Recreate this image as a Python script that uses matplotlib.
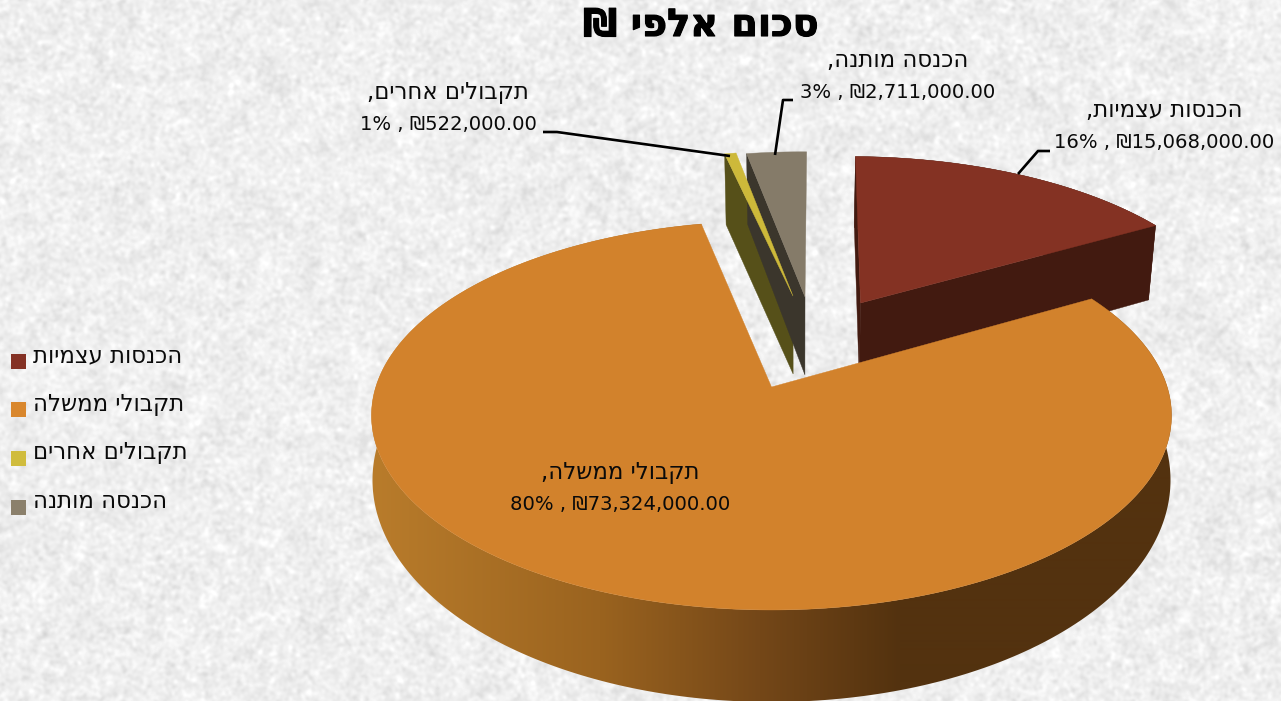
import numpy as np
import matplotlib
matplotlib.use("Agg")
import matplotlib.pyplot as plt
import matplotlib.patheffects as pe
from matplotlib.patches import Polygon, Rectangle
from matplotlib.colors import to_rgb

# ---- data ----
categories = ["הכנסות עצמיות", "תקבולי ממשלה", "תקבולים אחרים", "הכנסה מותנה"]
values = [15068000, 73324000, 522000, 2711000]
percents = [16, 80, 1, 3]
title = "סכום אלפי ₪"

# ---- styles ----
top_colors = ["#843223", "#d2822c", "#cdb93a", "#857b69"]
wall_colors = ["#421a10", "#53320f", "#565019", "#3b362c"]
legend_colors = ["#843124", "#d9872d", "#d0bc3d", "#8b806b"]
offsets = [(0.2405, -0.472), (0.0, 0.0), (0.0584, -0.514), (0.091, -0.509)]
rotation = 1.0
CX, CY, A, B, K = 771.5, 387.0, 395.7, 190.3, 0.1465
label_pos = [(1164.5, 111, 143), (620, 472, 504), (448, 93, 124), (897.5, 61, 92)]
leaders = [[(1018, 174), (1038, 151), (1050, 151)],
           [(543, 132), (557, 132), (730, 156)],
           [(793, 100), (783, 100), (775, 155)]]
legend_y = [354, 402, 451, 500]


def vis(s):
    """Hebrew in visual order, because matplotlib lays text out left to right."""
    return s[::-1]


def project(u, v):
    w = 1 - K * v
    return CX + A * u / w, CY + B * v / w


def rim(start, end, off, n=200):
    t = np.radians(np.linspace(start, end, n))
    return project(off[0] + np.sin(t), off[1] - np.cos(t))


fig = plt.figure(figsize=(12.81, 7.01), dpi=100)
ax = fig.add_axes([0, 0, 1, 1])
ax.axis("off")

# mottled paper backdrop
rng = np.random.default_rng(7)
h, w_ = 701, 1281
fy = np.fft.fftfreq(h)[:, None]
fx = np.fft.rfftfreq(w_)[None, :]
r2 = fx ** 2 + fy ** 2
spec = np.fft.rfft2(rng.standard_normal((h, w_)))
fine = np.fft.irfft2(spec * np.exp(-r2 * 2 * (np.pi * 1.7) ** 2), s=(h, w_))
spec2 = np.fft.rfft2(rng.standard_normal((h, w_)))
coarse = np.fft.irfft2(spec2 * np.exp(-r2 * 2 * (np.pi * 6.0) ** 2), s=(h, w_))
tex = fine / fine.std() * 0.019 + coarse / coarse.std() * 0.009 + 0.935
ax.imshow(np.clip(tex, 0, 1), cmap="gray", vmin=0, vmax=1, extent=(0, 1281, 701, 0),
          aspect="auto", zorder=0, interpolation="bilinear")

# slice angles come from the values
total = sum(values)
edges = np.concatenate([[0], np.cumsum(values)]) / total * 360 + rotation


def extrude(x, y):
    x = np.asarray(x, float)
    y = np.asarray(y, float)
    return x - 0.02 * (x - 800), y + 71 + (y - 157) * 0.05


# exploded slices first (they sit behind the big one)
for i in [0, 3, 2]:
    s, e = edges[i], edges[i + 1]
    rx, ry = rim(s, e, offsets[i])
    ax_, ay_ = project(*offsets[i])
    tx = np.concatenate([[ax_], rx])
    ty = np.concatenate([[ay_], ry])
    faces = [([ax_, rx[0]], [ay_, ry[0]])]
    if i == 0:
        faces += [([ax_, rx[-1]], [ay_, ry[-1]]), (rx, ry)]
    for xs, ys in faces:
        xs = np.asarray(xs, float)
        ys = np.asarray(ys, float)
        bx, by = extrude(xs, ys)
        ax.add_patch(Polygon(np.column_stack([np.r_[xs, bx[::-1]], np.r_[ys, by[::-1]]]),
                             closed=True, fc=wall_colors[i], ec=wall_colors[i], lw=0.3, zorder=2 + i * 0.1))
    ax.add_patch(Polygon(np.column_stack([tx, ty]), closed=True, fc=top_colors[i],
                         ec=top_colors[i], lw=0.3, zorder=3 + i * 0.1))

# big slice: shaded side wall, then the top
s, e = edges[1], edges[2]
rx, ry = rim(s, e, offsets[1], n=500)
ell_top = rim(0, 360, (0, 0), n=721)
ecx = 0.5 * (ell_top[0].max() + ell_top[0].min())
ecy = 0.5 * (ell_top[1].max() + ell_top[1].min())
ea = 0.5 * (ell_top[0].max() - ell_top[0].min())
eb = 0.5 * (ell_top[1].max() - ell_top[1].min())
bx = 771.5 + 399 * (rx - ecx) / ea
by = 480 + 222 * (ry - ecy) / eb
stops_x = [372, 600, 760, 900, 1172]
stops_c = ["#b97c2b", "#9a631f", "#744718", "#53320f", "#53320f"]
grad_x = np.arange(360, 1185)
grad = np.stack([np.interp(grad_x, stops_x, [to_rgb(c)[k] for c in stops_c]) for k in range(3)], axis=-1)[None, :, :]
wall = Polygon(np.column_stack([np.r_[rx, bx[::-1]], np.r_[ry, by[::-1]]]), closed=True,
               fc="none", ec="none", transform=ax.transData)
ax.add_patch(wall)
im = ax.imshow(grad, extent=(360, 1185, 720, 200), aspect="auto", zorder=4, interpolation="bilinear")
im.set_clip_path(wall)
ax_, ay_ = project(*offsets[1])
ax.add_patch(Polygon(np.column_stack([np.r_[ax_, rx], np.r_[ay_, ry]]), closed=True,
                     fc=top_colors[1], ec=top_colors[1], lw=0.3, zorder=5))

# leaders
for pts in leaders:
    p = np.array(pts)
    ax.plot(p[:, 0], p[:, 1], color="black", lw=1.9, zorder=6, solid_capstyle="butt")

# data labels
font = "DejaVu Sans"
he_size, num_size = 16.4, 14.1
for name, val, pct, (lx, y1, y2) in zip(categories, values, percents, label_pos):
    ax.text(lx, y1, vis(name + ","), ha="center", va="center", fontsize=he_size, family=font, color="#0a0a0a", zorder=7)
    ax.text(lx, y2, f"{pct}% , ₪{val:,.2f}", ha="center", va="center", fontsize=num_size, family=font, color="#0a0a0a", zorder=7)

# legend
for name, col, y in zip(categories, legend_colors, legend_y):
    ax.add_patch(Rectangle((11, y), 15, 15, fc=col, ec="none", zorder=6))
    ax.text(33, y + 2, vis(name), ha="left", va="center", fontsize=16.4, family=font, color="#0a0a0a", zorder=7)

t = ax.text(701, 26, vis(title), ha="center", va="center", fontsize=27.5, fontweight="bold", family=font,
            color="black", zorder=7)
t.set_path_effects([pe.withStroke(linewidth=0.8, foreground="black")])

ax.set_xlim(0, 1281)
ax.set_ylim(701, 0)
fig.savefig("out.png", dpi=100)
